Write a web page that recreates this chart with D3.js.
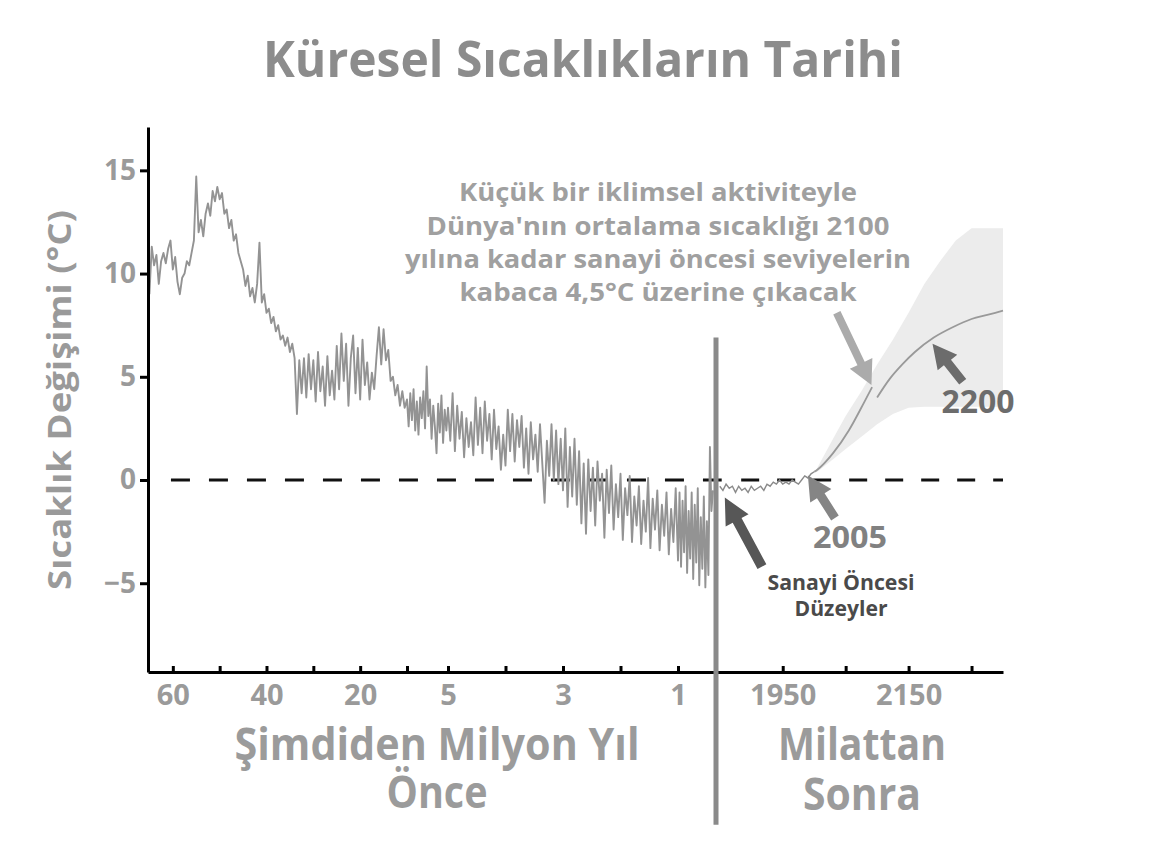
<!DOCTYPE html>
<html><head><meta charset="utf-8">
<script src="https://cdn.jsdelivr.net/npm/d3@7"></script>
<style>body{margin:0;background:#fff}</style>
</head><body>
<svg id="c" width="1153" height="854"></svg>
<script>
// ---------- DATA ----------
// Paleo temperature change (°C), millions of years before present
const paleoA_start = 65, paleoA_step = 0.5;   // 65 -> 10 Mya
const paleoA = [9.0,11.3,10.4,10.9,9.5,10.6,11.0,10.5,11.2,11.6,10.2,10.8,9.6,9.0,9.8,10.0,10.6,10.4,11.0,11.6,
  14.7,12.0,12.6,11.8,12.9,13.4,12.8,14.0,13.5,14.2,13.6,13.9,12.9,13.1,12.2,12.6,11.6,11.9,11.0,10.6,
  10.2,9.4,9.9,8.9,9.3,8.6,9.5,11.5,8.6,9.0,8.1,8.3,7.6,7.9,7.2,7.5,6.8,7.0,6.5,6.9,
  6.2,6.6,5.9,3.2,5.8,4.2,5.9,4.0,6.1,4.4,5.8,3.8,6.2,4.3,5.5,3.6,6.0,4.1,5.3,3.9,
  6.5,4.4,7.1,4.8,6.6,3.6,5.9,7.0,4.2,6.4,3.9,6.8,4.6,5.7,3.9,5.2,4.4,6.0,7.4,5.6,
  7.3,5.8,6.3,4.8,5.0,4.1,4.6,3.6,4.3,3.5,3.9];
const paleoB_start = 9.8, paleoB_step = 0.2;  // 9.8 -> 5 Mya
const paleoB = [2.6,4.2,2.9,4.4,2.4,3.8,2.2,4.0,3.0,4.3,2.5,5.5,3.1,3.9,2.0,3.6,2.6,1.3,3.7,2.3,4.1,1.8,3.4,2.4,3.5];
const paleoC_start = 4.96, paleoC_step = 0.04; // 4.96 -> 1 Mya
const paleoC = [1.9,4.2,1.4,3.6,2.0,3.3,1.1,3.0,1.6,2.8,1.2,4.0,1.7,3.5,1.3,3.8,1.9,3.2,1.0,
  3.4,1.5,2.6,0.5,2.2,0.7,3.4,1.4,3.2,0.9,2.9,1.6,3.1,0.6,2.5,0.3,2.8,1.0,2.2,0.4,
  2.7,0.8,-1.1,1.9,0.2,2.7,0.0,2.4,-0.2,2.0,-0.5,2.5,-1.3,1.6,-0.8,2.0,-1.2,1.4,-2.1,
  0.8,-2.6,1.0,-1.5,0.6,-2.2,0.9,-1.0,0.3,-2.8,0.5,-1.6,0.7,-2.4,-0.2,-1.8,0.3,-2.9,-0.4,
  -1.7,0.2,-3.0,-0.8,-2.2,-0.3,-3.1,-1.0,-2.5,0.1,-3.3,-0.9,-2.4,-0.5,-3.4,-1.2,-2.7,-0.6,
  -3.6,-1.4,-3.0,-0.4,-3.9];
const paleoD_start = 0.96, paleoD_step = 0.04; // 0.96 -> 0.08 Mya
const paleoD = [-0.6,-4.2,-1.0,-3.5,-0.3,-4.5,-1.5,-3.8,-0.6,-4.8,-1.2,-4.0,-0.4,-5.1,-1.8,-4.3,-0.8,-5.2,-2.0,-4.6,1.6,-1.5,-0.5];

// Pre-industrial record (years AD)
const preYears = [1850,1855,1860,1865,1870,1875,1880,1885,1890,1895,1900,1905,1910,1915,1920,1925,1930,1935,1940,1945,1950,1955,1960,1965,1970,1975,1980,1985,1990,1995,2000];
const preTemps = [-0.3,-0.5,-0.2,-0.4,-0.3,-0.6,-0.3,-0.5,-0.4,-0.6,-0.3,-0.5,-0.4,-0.3,-0.5,-0.2,-0.3,-0.1,-0.2,0.0,-0.2,-0.1,-0.2,0.0,-0.1,-0.2,0.0,0.2,0.1,0.3,0.4];

// Projection
const projYears1 = [2000,2005,2030,2055,2080,2092];
const projTemps1 = [0.4,0.5,1.3,2.4,3.8,4.5];
const projYears2 = [2100,2120,2140,2160,2190,2220,2250,2275,2300];
const projTemps2 = [4.0,4.9,5.6,6.2,6.9,7.4,7.8,8.0,8.2];

// Uncertainty band
const bandYears = [2000,2005,2030,2050,2075,2100,2125,2150,2175,2200,2225,2250,2300];
const bandHigh  = [0.35,0.6,2.0,3.1,4.3,5.6,6.8,8.1,9.5,10.6,11.6,12.2,12.2];
const bandLow   = [0.35,0.4,1.0,1.5,2.1,2.7,3.2,3.5,3.55,3.55,3.55,3.55,3.55];

// Axes ticks
const yTickValues = [-5,0,5,10,15];
const leftTickValues = [60,50,40,30,20,10,5,4,3,2,1];
const leftTickLabels = ["60","","40","","20","","5","","3","","1"];
const rightTickValues = [1950,2050,2150,2250];
const rightTickLabels = ["1950","","2150",""];

// Texts
const title = "Küresel Sıcaklıkların Tarihi";
const yTitle = "Sıcaklık Değişimi (°C)";
const noteLines = ["Küçük bir iklimsel aktiviteyle","Dünya'nın ortalama sıcaklığı 2100","yılına kadar sanayi öncesi seviyelerin","kabaca 4,5°C üzerine çıkacak"];

// ---------- DRAW ----------
const F = "'Open Sans','Noto Sans',sans-serif";
const svg = d3.select("#c");
svg.append("rect").attr("width",1153).attr("height",854).attr("fill","#fff");

const y = d3.scaleLinear().domain([-9.3, 17.1]).range([672, 127]);
const xLeft = d3.scaleLinear().domain([-65.3, -10, -5, -1, 0]).range([148, 407, 448, 678, 716]);
const xRight = d3.scaleLinear().domain([1844, 2300]).range([716, 1003]);

// band
const band = bandYears.map((yr,i)=>({yr, hi:bandHigh[i], lo:bandLow[i]}));
svg.append("path").datum(band)
  .attr("d", d3.area().x(d=>xRight(d.yr)).y0(d=>y(d.lo)).y1(d=>y(d.hi)))
  .attr("fill","#ececec");

// zero dashed lines
svg.append("line").attr("x1",xLeft(-60.4)).attr("x2",xLeft(0.15)).attr("y1",y(0)).attr("y2",y(0))
  .attr("stroke","#111").attr("stroke-width",3).attr("stroke-dasharray","19,19");
svg.append("line").attr("x1",xRight(1884)).attr("x2",xRight(2300)).attr("y1",y(0)).attr("y2",y(0))
  .attr("stroke","#111").attr("stroke-width",3).attr("stroke-dasharray","18,18");

// paleo series
const segs = [[paleoA_start,paleoA_step,paleoA],[paleoB_start,paleoB_step,paleoB],[paleoC_start,paleoC_step,paleoC],[paleoD_start,paleoD_step,paleoD]];
const paleo = segs.flatMap(([s,st,vals]) => vals.map((v,i)=>({mya: s - i*st, t: v})));
svg.append("path").datum(paleo)
  .attr("d", d3.line().x(d=>xLeft(-d.mya)).y(d=>y(d.t)))
  .attr("fill","none").attr("stroke","#939393").attr("stroke-width",1.9).attr("stroke-linejoin","round");

// pre-industrial
svg.append("path").datum(preYears.map((yr,i)=>({yr,t:preTemps[i]})))
  .attr("d", d3.line().x(d=>xRight(d.yr)).y(d=>y(d.t)))
  .attr("fill","none").attr("stroke","#8a8a8a").attr("stroke-width",1.4);

// projection
[[projYears1,projTemps1],[projYears2,projTemps2]].forEach(([ys,ts])=>{
  svg.append("path").datum(ys.map((yr,i)=>({yr,t:ts[i]})))
    .attr("d", d3.line().curve(d3.curveMonotoneX).x(d=>xRight(d.yr)).y(d=>y(d.t)))
    .attr("fill","none").attr("stroke","#999").attr("stroke-width",1.8);
});

// axes
function styleAxis(g){
  g.select(".domain").attr("stroke","#000").attr("stroke-width",3);
  g.selectAll(".tick line").attr("stroke","#000").attr("stroke-width",3);
  g.selectAll(".tick text").attr("fill","#9a9a9a").attr("font-family",F).attr("font-weight","bold");
}
const gy = svg.append("g").attr("transform",`translate(${xLeft(-65.3)},0)`)
  .call(d3.axisLeft(y).tickValues(yTickValues).tickSizeInner(8).tickSizeOuter(0).tickPadding(4).tickFormat(d3.format("d")));
styleAxis(gy); gy.selectAll(".tick text").attr("font-size",28);

const gxl = svg.append("g").attr("transform",`translate(0,${y(-9.3)})`)
  .call(d3.axisBottom(xLeft).tickValues(leftTickValues.map(d=>-d)).tickSizeInner(-6).tickSizeOuter(0).tickPadding(12)
    .tickFormat((d,i)=>leftTickLabels[i]));
styleAxis(gxl); gxl.selectAll(".tick text").attr("font-size",29);
const gxr = svg.append("g").attr("transform",`translate(0,${y(-9.3)})`)
  .call(d3.axisBottom(xRight).tickValues(rightTickValues).tickSizeInner(-6).tickSizeOuter(0).tickPadding(12)
    .tickFormat((d,i)=>rightTickLabels[i]));
styleAxis(gxr); gxr.selectAll(".tick text").attr("font-size",29);

// vertical separator bar
svg.append("line").attr("x1",xLeft(0)).attr("x2",xLeft(0)).attr("y1",y(6.9)).attr("y2",y(-16.7))
  .attr("stroke","#8a8a8a").attr("stroke-width",5);

// arrows (tail -> tip, in year/°C)
function arrow(x1,y1,x2,y2,color,sw,hl,hw){
  const dx=x2-x1, dy=y2-y1, L=Math.hypot(dx,dy), ux=dx/L, uy=dy/L, nx=-uy, ny=ux;
  const bx=x2-ux*hl, by=y2-uy*hl;
  const pts=[[x1+nx*sw/2,y1+ny*sw/2],[bx+nx*sw/2,by+ny*sw/2],[bx+nx*hw/2,by+ny*hw/2],[x2,y2],
    [bx-nx*hw/2,by-ny*hw/2],[bx-nx*sw/2,by-ny*sw/2],[x1-nx*sw/2,y1-ny*sw/2]];
  svg.append("polygon").attr("points",pts.map(p=>p.join(",")).join(" ")).attr("fill",color);
}
const arrows = [
  {from:[1917,-4.2], to:[1858,-0.85], color:"#575757", sw:10, hl:26, hw:26},
  {from:[2033,-1.84], to:[1990,0.22], color:"#858585", sw:9, hl:24, hw:25},
  {from:[2036,8.1], to:[2091,4.6], color:"#ababab", sw:8, hl:24, hw:25},
  {from:[2236,4.76], to:[2188,6.6], color:"#6c6c6c", sw:9, hl:24, hw:25}
];
arrows.forEach(a=>arrow(xRight(a.from[0]),y(a.from[1]),xRight(a.to[0]),y(a.to[1]),a.color,a.sw,a.hl,a.hw));

// texts
function txt(s,x,yy,size,color,len){
  const t=svg.append("text").attr("x",x).attr("y",yy).attr("text-anchor","middle")
    .attr("font-family",F).attr("font-weight","bold").attr("font-size",size).attr("fill",color).text(s);
  if(len) t.attr("textLength",len).attr("lengthAdjust","spacingAndGlyphs");
  return t;
}
txt(title,583,77,50,"#8c8c8c",640);
svg.append("text").attr("transform","translate(71,400) rotate(-90)").attr("text-anchor","middle")
  .attr("font-family",F).attr("font-weight","bold").attr("font-size",32).attr("fill","#9a9a9a")
  .attr("textLength",380).attr("lengthAdjust","spacingAndGlyphs").text(yTitle);

const noteY=[201,235,268,301], noteLen=[398,463,506,397];
noteLines.forEach((s,i)=>txt(s,658,noteY[i],25,"#a0a0a0",noteLen[i]));

txt("2200",978,413,32,"#6c6c6c",73);
txt("2005",850,548,31,"#818181",74);
txt("Sanayi Öncesi",841,590,21,"#4a4a4a",147);
txt("Düzeyler",841,616,21,"#4a4a4a",93);

txt("Şimdiden Milyon Yıl",437,760,44,"#9b9b9b",405);
txt("Önce",437,808,44,"#9b9b9b",101);
txt("Milattan",862,760,44,"#9b9b9b",168);
txt("Sonra",862,810,44,"#9b9b9b",118);
</script></body></html>
